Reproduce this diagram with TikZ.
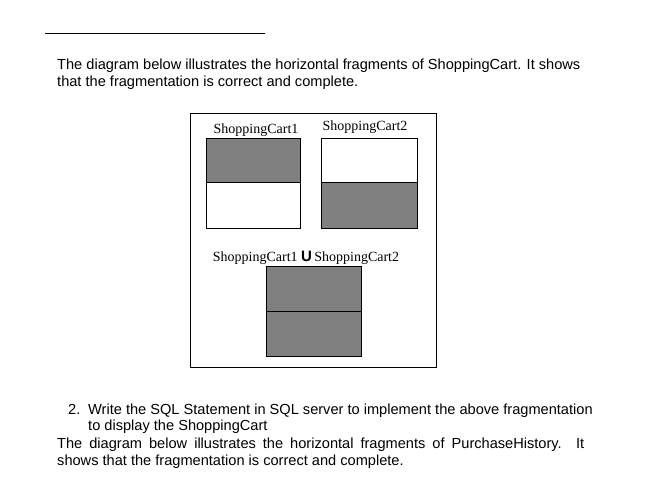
\documentclass[tikz,border=0pt]{standalone}
\usepackage{fontspec}
\setmainfont{Liberation Sans}
\newfontfamily\serifx{Liberation Serif}
\begin{document}
\begin{tikzpicture}[x=1pt,y=-1pt,
  txt/.style={anchor=base west,inner sep=0pt,font=\fontsize{14.6}{16.5}\selectfont},
  lab/.style={anchor=base,inner sep=0pt,font=\serifx\fontsize{14}{15}\selectfont},
  gfill/.style={fill=black!50},
  frag/.style={draw=black,line width=0.7pt}]
\useasboundingbox (0,0) rectangle (656,495);
\draw[line width=0.8pt] (45,33) -- (265,33);
\node[txt] (t1) at (57,70) {The diagram below illustrates the horizontal fragments of ShoppingCart. It shows};
\node[txt] (t2) at (57,87) {that the fragmentation is correct and complete.};
\draw[line width=0.7pt] (190,113) rectangle (436,367);
% SC1
\fill[gfill] (206,138) rectangle (300,182);
\draw[frag] (206,138) rectangle (300,228);
\draw[frag] (206,182) -- (300,182);
% SC2
\fill[gfill] (321,182) rectangle (417,228);
\draw[frag] (321,138) rectangle (417,228);
\draw[frag] (321,182) -- (417,182);
% union
\fill[gfill] (266,266) rectangle (361,356);
\draw[frag] (266,266) rectangle (361,356);
\draw[frag] (266,311) -- (361,311);
\node[lab] (l1) at (256,133) {ShoppingCart1};
\node[lab] (l2) at (365,130) {ShoppingCart2};
\node[lab] (l3) at (306,261) {ShoppingCart1 {\fontspec{Liberation Sans}\bfseries\fontsize{15}{15}\selectfont U}\,ShoppingCart2};
\node[txt] (n2) at (68,414) {2.};
\node[txt] (b1) at (88,414) {Write the SQL Statement in SQL server to implement the above fragmentation};
\node[txt] (b2) at (88,430) {to display the ShoppingCart};
\node[txt,text width=527pt,align=justify,anchor=north west] (b3) at (57,438) {The diagram below illustrates the horizontal fragments of PurchaseHistory. It\linebreak shows that the fragmentation is correct and complete.};
\end{tikzpicture}
\end{document}
